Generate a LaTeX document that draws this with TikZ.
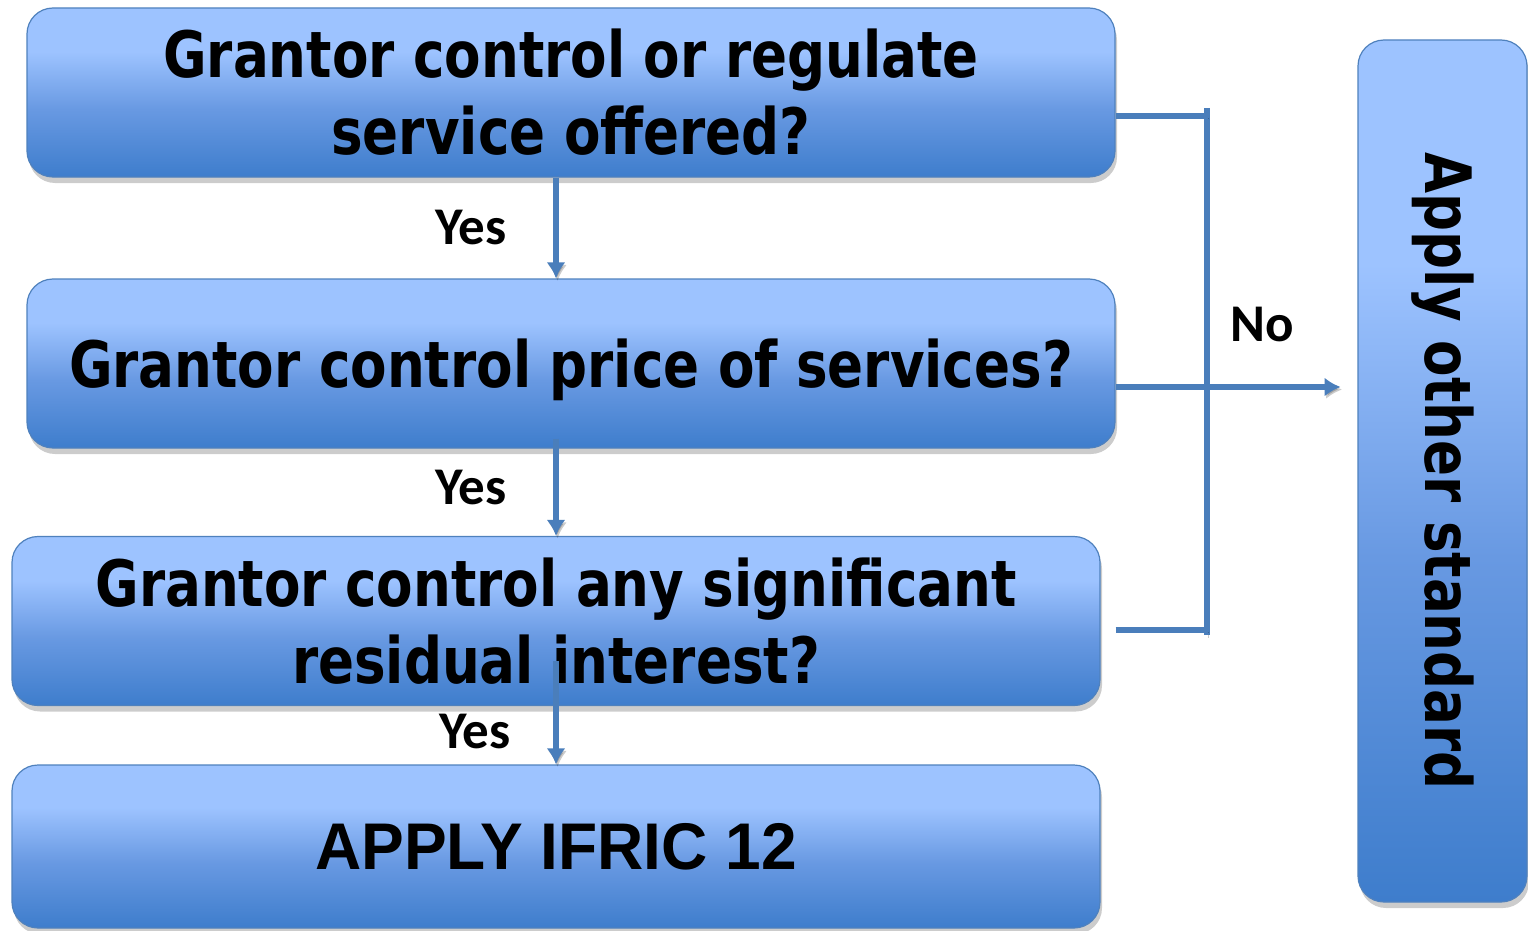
\documentclass[tikz,border=0pt]{standalone}
\usepackage{fontspec}
\usetikzlibrary{arrows.meta,shadows}
\newfontfamily\qfont[FakeStretch=0.83]{DejaVu Sans}
\newfontfamily\yfont{Carlito}
\newfontfamily\afont[FakeStretch=0.97]{Liberation Sans}
\definecolor{boxlight}{RGB}{157,195,255}
\definecolor{boxmid}{RGB}{104,153,226}
\definecolor{boxdark}{RGB}{62,125,204}
\definecolor{boxedge}{RGB}{79,129,189}
\definecolor{linkblue}{RGB}{74,126,187}
\pgfdeclareverticalshading{boxfill}{100bp}{color(0bp)=(boxdark); color(25bp)=(boxdark); color(45bp)=(boxmid); color(62bp)=(boxlight); color(100bp)=(boxlight)}

\begin{document}
\begin{tikzpicture}[x=1pt,y=-1pt,
    box/.style={rectangle,draw=boxedge,line width=1.2pt,shade,shading=boxfill,rounded corners=26pt,
      drop shadow={shadow xshift=2pt,shadow yshift=-6pt,opacity=0.4},
      minimum width=1088pt,minimum height=169pt,align=center,inner sep=0pt,
      font=\qfont\bfseries\fontsize{64}{77}\selectfont},
    link/.style={draw=linkblue,line width=5.5pt,>={Latex[length=16pt,width=19pt]},
      preaction={draw=black,opacity=0.2,transform canvas={xshift=1.5pt,yshift=-2.5pt}}},
    lbl/.style={font=\yfont\bfseries\fontsize{53}{53}\selectfont}]
    \useasboundingbox (0,0) rectangle (1528,931);
    % questions
    \node[box] (q1) at (571,92.5) {Grantor control or regulate\\service offered?};
    \node[box,text depth=0pt] (q2) at (571,363.5) {Grantor control price of services?};
    \node[box] (q3) at (556,621) {Grantor control any significant\\residual interest?};
    % outcomes
    \node[box,minimum height=163pt,font=\afont\bfseries\fontsize{66}{66}\selectfont] (res) at (556,846.5) {APPLY IFRIC 12};
    \node[box,minimum width=169pt,minimum height=862pt] (oth) at (1442.5,471) {\rotatebox{-90}{Apply other standard}};
    % yes branch
    \draw[link,->] ([xshift=-15pt]q1.south) -- node[lbl,xshift=-85pt] {Yes} ([xshift=-15pt]q2.north);
    \draw[link,->] ([xshift=-15pt,yshift=10pt]q2.south) -- node[lbl,xshift=-85pt] {Yes} (q3.north);
    \draw[link,->] ([yshift=45pt]q3.south) -- node[lbl,pos=0.68,xshift=-81pt] {Yes} (res.north);
    % no branch
    \coordinate (bustop) at (1207,108);
    \coordinate (busbot) at (1207,635);
    \draw[link] (bustop) -- (busbot);
    \draw[link] ([yshift=-23.5pt]q1.east) -- +(92,0);
    \draw[link] ([xshift=15pt,yshift=-9pt]q3.east) -- +(92,0);
    \draw[link,->] ([yshift=-23.5pt]q2.east) -- node[lbl,pos=0.65,yshift=62pt] {No} +(225,0);
\end{tikzpicture}
\end{document}
